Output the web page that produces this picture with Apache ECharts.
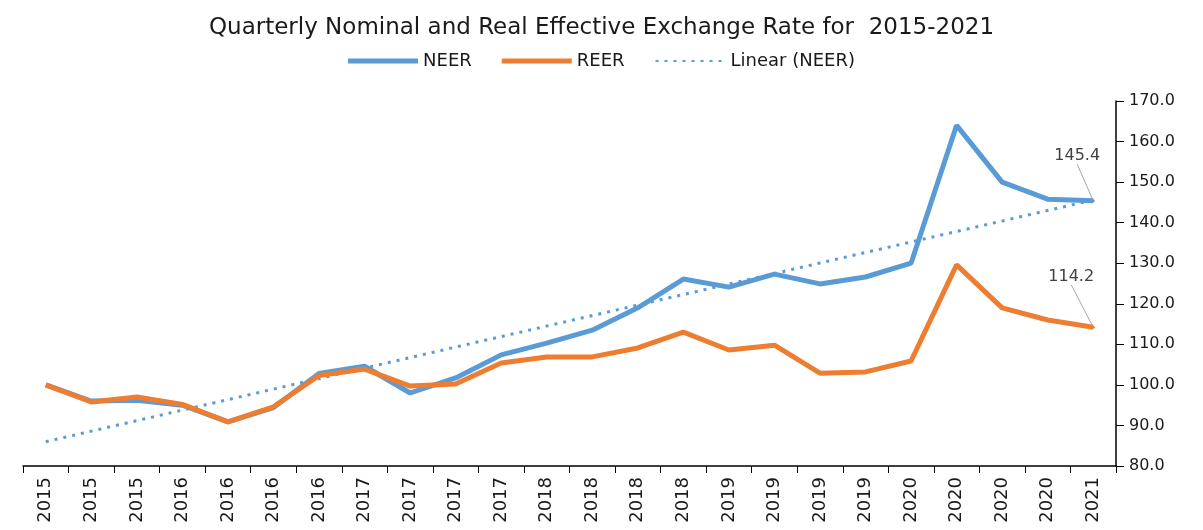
<!DOCTYPE html>
<html>
<head>
<meta charset="utf-8">
<script src="https://cdn.jsdelivr.net/npm/echarts@6/dist/echarts.min.js"></script>
<style>html,body{margin:0;padding:0;background:#fff}#c{width:1203px;height:530px}</style>
</head>
<body>
<div id="c"></div>
<script>
const categories = ['2015','2015','2015','2016','2016','2016','2016','2017','2017','2017','2017','2018','2018','2018','2018','2019','2019','2019','2019','2020','2020','2020','2020','2021'];
const neer = [100.0, 96.0, 96.2, 95.0, 90.9, 94.4, 102.8, 104.6, 98.0, 101.7, 107.4, 110.3, 113.5, 119.0, 126.1, 124.1, 127.3, 124.9, 126.6, 130.0, 164.0, 150.0, 145.8, 145.4];
const reer = [100.0, 95.8, 97.0, 95.2, 90.9, 94.6, 102.3, 103.9, 99.7, 100.2, 105.4, 106.9, 106.9, 109.1, 113.0, 108.6, 109.8, 102.9, 103.2, 105.9, 129.6, 119.0, 116.0, 114.2];
// trend line (Linear NEER) read at its two ends
const trendStart = 86.0;
const trendEnd = 145.6;
const yTicks = {min: 80, max: 170, interval: 10};

const last = categories.length - 1;
const endLabel = {
  show: true, position: 'top',
  fontFamily: 'DejaVu Sans', fontSize: 16, color: '#404040'
};
const endLabelLine = {show: true, lineStyle: {color: '#a6a6a6', width: 1}};
const trend = categories.map((c, i) => i === 0 ? trendStart : (i === last ? trendEnd : null));
const onlyLast = (v, p) => p.dataIndex === last ? 'circle' : 'none';

const chart = echarts.init(document.getElementById('c'), null, {renderer: 'canvas'});
chart.setOption({
  animation: false,
  backgroundColor: '#fff',
  title: {
    text: 'Quarterly Nominal and Real Effective Exchange Rate for  2015-2021',
    left: 'center', top: 12,
    textStyle: {fontFamily: 'DejaVu Sans', fontSize: 23, fontWeight: 'normal', color: '#1a1a1a'}
  },
  legend: {
    top: 47, left: 'center', itemGap: 30, itemWidth: 70, itemHeight: 5,
    textStyle: {fontFamily: 'DejaVu Sans', fontSize: 18, color: '#1a1a1a'},
    data: [
      {name: 'NEER', icon: 'rect'},
      {name: 'REER', icon: 'rect'},
      {name: 'Linear (NEER)', itemStyle: {opacity: 0}}
    ]
  },
  grid: {left: 23, right: 87, top: 101, bottom: 64, containLabel: false},
  xAxis: {
    type: 'category', data: categories, boundaryGap: true,
    axisLine: {show: true, lineStyle: {color: '#000', width: 1.5}},
    axisTick: {show: true, alignWithLabel: false, length: 7, lineStyle: {color: '#000'}},
    axisLabel: {interval: 0, rotate: 90, fontFamily: 'DejaVu Sans', fontSize: 18, color: '#1a1a1a', margin: 11},
    splitLine: {show: false}
  },
  yAxis: {
    type: 'value', position: 'right', min: yTicks.min, max: yTicks.max, interval: yTicks.interval,
    axisLine: {show: true, lineStyle: {color: '#000', width: 1.5}},
    axisTick: {show: true, length: 8, lineStyle: {color: '#000'}},
    axisLabel: {formatter: v => v.toFixed(1), fontFamily: 'DejaVu Sans', fontSize: 16, color: '#1a1a1a', margin: 13},
    splitLine: {show: false}
  },
  series: [
    {
      name: 'NEER', type: 'line', data: neer, symbol: onlyLast, symbolSize: 3, showSymbol: true,
      lineStyle: {color: '#5B9BD5', width: 5}, itemStyle: {color: '#5B9BD5'}, z: 3,
      label: Object.assign({}, endLabel, {formatter: p => p.dataIndex === last ? p.value.toFixed(1) : ''}),
      labelLine: endLabelLine,
      labelLayout: p => p.dataIndex === last ? {dx: -16, dy: -30} : {}
    },
    {
      name: 'REER', type: 'line', data: reer, symbol: onlyLast, symbolSize: 3, showSymbol: true,
      lineStyle: {color: '#ED7D31', width: 5}, itemStyle: {color: '#ED7D31'}, z: 4,
      label: Object.assign({}, endLabel, {formatter: p => p.dataIndex === last ? p.value.toFixed(1) : ''}),
      labelLine: endLabelLine,
      labelLayout: p => p.dataIndex === last ? {dx: -22, dy: -36} : {}
    },
    {
      name: 'Linear (NEER)', type: 'line', data: trend, connectNulls: true, symbol: 'none',
      lineStyle: {color: '#5B9BD5', width: 3, type: [3, 6]}, itemStyle: {color: '#5B9BD5'}, z: 2
    }
  ]
});
</script>
</body>
</html>
